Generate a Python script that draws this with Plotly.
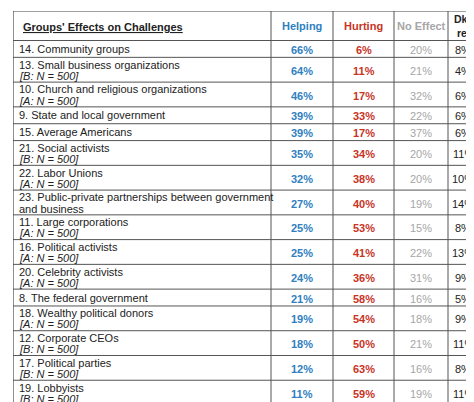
import plotly.graph_objects as go

groups = ["14. Community groups", "13. Small business organizations", "10. Church and religious organizations",
          "9. State and local government", "15. Average Americans", "21. Social activists", "22. Labor Unions",
          "23. Public-private partnerships between government", "11. Large corporations",
          "16. Political activists", "20. Celebrity activists", "8. The federal government",
          "18. Wealthy political donors", "12. Corporate CEOs", "17. Political parties", "19. Lobbyists"]
second_line = ["", "<i>[B: N = 500]</i>", "<i>[A: N = 500]</i>", "", "", "<i>[B: N = 500]</i>",
               "<i>[A: N = 500]</i>", "and business", "<i>[A: N = 500]</i>", "<i>[A: N = 500]</i>",
               "<i>[A: N = 500]</i>", "", "<i>[A: N = 500]</i>", "<i>[B: N = 500]</i>",
               "<i>[B: N = 500]</i>", "<i>[B: N = 500]</i>"]
helping = [66, 64, 46, 39, 39, 35, 32, 27, 25, 25, 24, 21, 19, 18, 12, 11]
hurting = [6, 11, 17, 33, 17, 34, 38, 40, 53, 41, 36, 58, 54, 50, 63, 59]
no_effect = [20, 21, 32, 22, 37, 20, 20, 19, 15, 22, 31, 16, 18, 21, 16, 19]
dk_ref = [8, 4, 6, 6, 6, 11, 10, 14, 8, 13, 9, 5, 9, 11, 8, 11]
headers = ["<b><u>Groups' Effects on Challenges</u></b>", "<b>Helping</b>", "<b>Hurting</b>",
           "<b>No Effect</b>", "<b>Dk /<br>ref</b>"]

blue, red, grey, ink = "#2f7fc1", "#c8341f", "#a6a6a6", "#222"
FONT = "Arial, Liberation Sans"
cols = [0, 258, 320, 381, 435, 465]
colors = [ink, blue, red, grey, ink]

# row boundaries from line counts
bounds = [0, 28]
for s in second_line:
    bounds.append(bounds[-1] + (23.5 if s else 16))
total = bounds[-1]

fig = go.Figure()
shapes = [dict(type="rect", x0=0, x1=465, y0=0, y1=total, line=dict(color="#444", width=1.2))]
for b in bounds[1:-1]:
    shapes.append(dict(type="line", x0=0, x1=465, y0=b, y1=b, line=dict(color="#555", width=1)))
for c in cols[1:-1]:
    shapes.append(dict(type="line", x0=c, x1=c, y0=0, y1=total, line=dict(color="#555", width=1)))

ann = []
def add(x, y, t, color, size=11, anchor="center"):
    ann.append(dict(x=x, y=y, text=t, showarrow=False, xanchor=anchor, yanchor="middle",
                    font=dict(family=FONT, size=size, color=color)))

add(8, 15, headers[0], ink, anchor="left")
for j in range(1, 5):
    add((cols[j] + cols[j + 1]) / 2, 14, headers[j], colors[j], size=10.5 if j == 4 else 11)

for i in range(len(groups)):
    top, bot = bounds[i + 1], bounds[i + 2]
    mid = (top + bot) / 2
    if second_line[i]:
        add(4, top + 7, groups[i], ink, anchor="left")
        add(4, top + 17.5, second_line[i], ink, anchor="left")
    else:
        add(4, mid, groups[i], ink, anchor="left")
    vals = ["<b>%d%%</b>" % helping[i], "<b>%d%%</b>" % hurting[i], "%d%%" % no_effect[i], "%d%%" % dk_ref[i]]
    for j, v in enumerate(vals, start=1):
        add((cols[j] + cols[j + 1]) / 2, mid + 1, v, colors[j])

fig.update_layout(width=474, height=402, margin=dict(l=5, r=4, t=3, b=5),
                  paper_bgcolor="white", plot_bgcolor="white", shapes=shapes, annotations=ann,
                  xaxis=dict(range=[0, 465], visible=False, fixedrange=True),
                  yaxis=dict(range=[total, 0], visible=False, fixedrange=True),
                  showlegend=False)
fig.write_html("out.html")
